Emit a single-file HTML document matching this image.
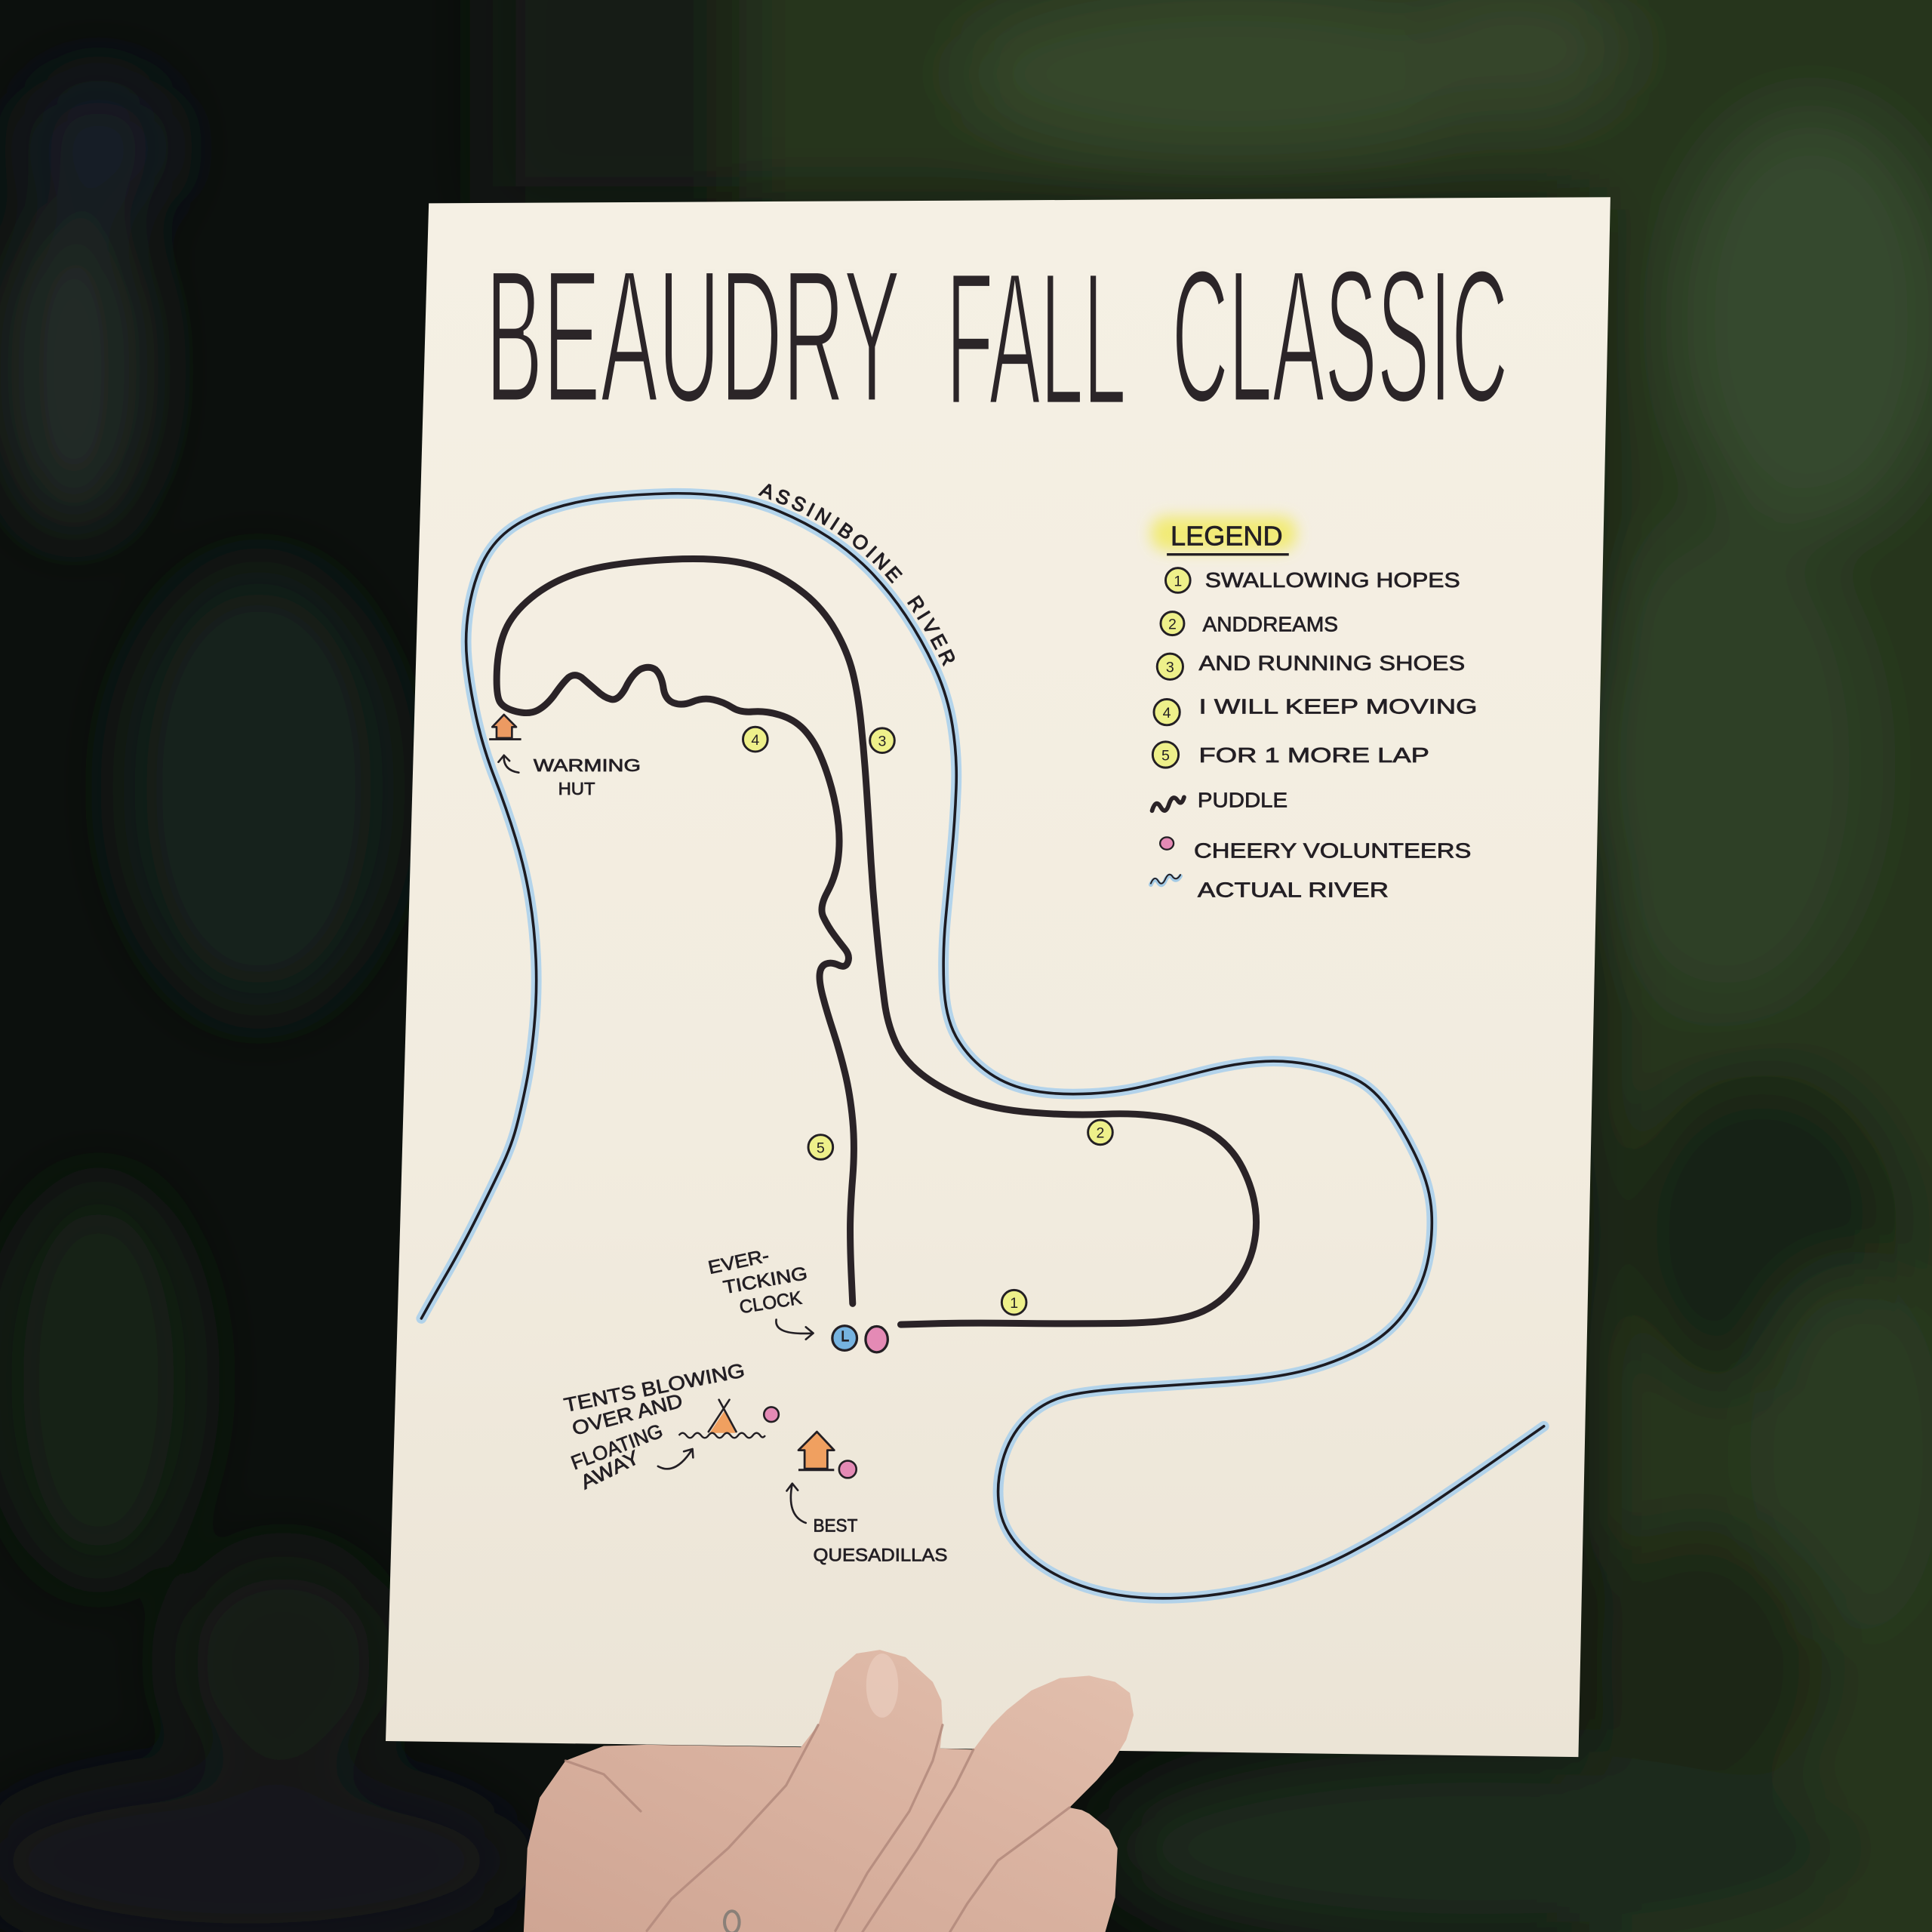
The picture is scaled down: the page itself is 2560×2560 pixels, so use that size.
<!DOCTYPE html>
<html><head><meta charset="utf-8"><style>
html,body{margin:0;padding:0;background:#0c100d;}
svg{display:block;}
.t{font-family:"Liberation Sans",sans-serif;fill:#231f24;stroke:#231f24;stroke-width:0.45;}
.n{font-family:"Liberation Sans",sans-serif;fill:#231f24;font-size:12px;text-anchor:middle;}
</style></head><body>
<svg width="2560" height="2560" viewBox="0 0 1568 1568" xmlns="http://www.w3.org/2000/svg">
<defs>
<filter id="bl" x="-50%" y="-50%" width="200%" height="200%"><feGaussianBlur stdDeviation="28"/></filter>
<filter id="bl2" x="-50%" y="-50%" width="200%" height="200%"><feGaussianBlur stdDeviation="6"/></filter>
<linearGradient id="pg" x1="0" y1="0" x2="0" y2="1"><stop offset="0" stop-color="#f5f0e4"/><stop offset="0.6" stop-color="#f2ecdf"/><stop offset="1" stop-color="#ebe4d6"/></linearGradient>
<linearGradient id="hg" x1="0" y1="1" x2="1" y2="0"><stop offset="0" stop-color="#cfa593"/><stop offset="0.6" stop-color="#dbb4a2"/><stop offset="1" stop-color="#e3c0ae"/></linearGradient>
<path id="river" d="M342,1070 L347,1061 Q352,1052 363.5,1032 Q375,1012 387.5,987 Q400,962 407.5,946 Q415,930 419,915 Q423,900 427,880 Q431,860 433.5,833.5 Q436,807 435,780.5 Q434,754 430,729.5 Q426,705 418.5,680.5 Q411,656 401.5,631.5 Q392,607 386.5,582 Q381,557 379,536 Q377,515 380.5,494 Q384,473 391.5,457 Q399,441 412.5,430.5 Q426,420 448,413 Q470,406 495,403.5 Q520,401 543.5,400.5 Q567,400 589,403 Q611,406 632.5,415 Q654,424 672.5,436 Q691,448 706.5,464 Q722,480 735,499.5 Q748,519 758.5,541.5 Q769,564 773,589 Q777,614 776,640 Q775,666 772.5,692.5 Q770,719 767.5,745.5 Q765,772 766,798.5 Q767,825 775.75,841 Q784.5,857 799.55,868.5 Q814.6,880 833.8,884.3 Q853,888.6 879,887.8 Q905,887 926.5,882 Q948,877 973.75,870.25 Q999.5,863.5 1021,861.75 Q1042.5,860 1064,864.25 Q1085.5,868.5 1100.55,876.05 Q1115.6,883.6 1128.3,902.1 Q1141,920.6 1150.9,942.3 Q1160.8,964 1161.9,984.3 Q1163,1004.6 1158.5,1024.8 Q1154,1045 1141.25,1063.5 Q1128.5,1082 1107,1093.7 Q1085.5,1105.4 1059.75,1112.1 Q1034,1118.8 995.25,1121.35 Q956.5,1123.9 917.75,1126.45 Q879,1129 861.85,1134 Q844.7,1139 831.85,1152.5 Q819,1166 813.5,1186 Q808,1206 811.3,1224.5 Q814.6,1243 829.65,1258 Q844.7,1273 866.2,1282.5 Q887.7,1292 913.35,1295.3 Q939,1298.6 969.25,1296.05 Q999.5,1293.5 1031.75,1285.1 Q1064,1276.7 1096.25,1259.85 Q1128.5,1243 1160.75,1221.25 Q1193,1199.5 1223,1178.5 L1253,1157.5"/>
<path id="rtext" d="M612,400 L634.5,409 Q657,418 676,430.5 Q695,443 711,459 Q727,475 740,494.5 Q753,514 764.5,537.5 L776,561"/>
</defs>

<!-- background -->
<rect width="1568" height="1568" fill="#0c100d"/>
<g filter="url(#bl)">
<rect x="1290" y="-60" width="340" height="1700" fill="#25341f"/>
<rect x="560" y="-60" width="760" height="230" fill="#28361f"/>
<rect x="400" y="-60" width="200" height="230" fill="#151d14"/>
<ellipse cx="1000" cy="60" rx="220" ry="70" fill="#344629"/>
<ellipse cx="1230" cy="40" rx="90" ry="60" fill="#34452b"/>
<ellipse cx="1470" cy="260" rx="110" ry="170" fill="#364a2d"/>
<ellipse cx="1400" cy="620" rx="120" ry="200" fill="#2e4028"/>
<ellipse cx="1430" cy="1000" rx="110" ry="130" fill="#172212"/>
<ellipse cx="1500" cy="1180" rx="80" ry="150" fill="#2b3b24"/>
<ellipse cx="1380" cy="1350" rx="100" ry="110" fill="#1a2514"/>
<ellipse cx="1200" cy="1500" rx="300" ry="80" fill="#1f2b1b"/>
<ellipse cx="60" cy="300" rx="60" ry="130" fill="#222c27"/>
<ellipse cx="210" cy="640" rx="110" ry="180" fill="#19221b"/>
<ellipse cx="80" cy="1120" rx="80" ry="160" fill="#182019"/>
<ellipse cx="230" cy="1350" rx="90" ry="90" fill="#171e18"/>
<ellipse cx="200" cy="1510" rx="220" ry="70" fill="#15181a"/>
<ellipse cx="80" cy="120" rx="60" ry="60" fill="#121a26"/>
</g>

<!-- paper -->
<polygon points="348,165 1307,160 1281,1426 313,1413" fill="url(#pg)"/>

<!-- title -->
<g font-family="Liberation Sans, sans-serif" font-size="154">
<g fill="#2b2528">
<text x="394" y="326" textLength="337" lengthAdjust="spacingAndGlyphs">BEAUDRY</text>
<text x="768" y="328" textLength="146" lengthAdjust="spacingAndGlyphs">FALL</text>
<text x="951" y="326" textLength="273" lengthAdjust="spacingAndGlyphs">CLASSIC</text>
</g>
<g fill="none" stroke="#f4efe3" stroke-width="3.5">
<text x="394" y="326" textLength="337" lengthAdjust="spacingAndGlyphs">BEAUDRY</text>
<text x="768" y="328" textLength="146" lengthAdjust="spacingAndGlyphs">FALL</text>
<text x="951" y="326" textLength="273" lengthAdjust="spacingAndGlyphs">CLASSIC</text>
</g>
</g>

<!-- river -->
<use href="#river" fill="none" stroke="#a2cdee" stroke-width="8.5" stroke-opacity="0.8" stroke-linecap="round" stroke-linejoin="round"/>
<use href="#river" fill="none" stroke="#1c1b22" stroke-width="2.2" stroke-linecap="round" stroke-linejoin="round"/>
<text class="t" font-size="16" letter-spacing="3" word-spacing="8" style="stroke-width:0.7"><textPath href="#rtext" startOffset="4">ASSINIBOINE RIVER</textPath></text>

<!-- track -->
<path fill="none" stroke="#2a2327" stroke-width="5.5" stroke-linecap="round" stroke-linejoin="round" d="M731,1075 L758,1074.25 Q785,1073.5 827.5,1074 Q870,1074.5 909,1074 Q948,1073.5 967.3,1067.6 Q986.6,1061.7 999.3,1046.6 Q1012,1031.5 1016.5,1014.75 Q1021,998 1018.85,981 Q1016.7,964 1008.1,947.35 Q999.5,930.7 984.25,920.6 Q969,910.5 945.5,906.75 Q922,903 896.25,904.25 Q870.5,905.5 838.25,902.95 Q806,900.4 784.5,892 Q763,883.6 748,871.8 Q733,860 726.5,845 Q720,830 717.85,813 Q715.7,796 714.35,784 Q713,772 710.5,745.5 Q708,719 706.5,692.5 Q705,666 703.25,639.8 Q701.5,613.6 699,588.8 Q696.5,564 692.25,546.5 Q688,529 678,511.5 Q668,494 652.85,481.75 Q637.7,469.5 620.85,462.45 Q604,455.4 578.85,454 Q553.7,452.6 519.85,455.8 Q486,459 466,466 Q446,473 431,485.3 Q416,497.6 410,511.65 Q404,525.7 403.25,545.05 Q402.5,564.4 405.75,569.7 Q409,575 419.2,577.5 Q429.4,580 436.2,576.5 Q443,573 449.5,564.5 Q456,555 461.2,550 Q466.4,546 472.2,550 Q478,555 484,560.2 Q490,566 495.8,567.5 Q501.6,569 507.3,559 Q513,547 520,543 Q527,540 532,543.5 Q537,548 538.5,559 Q540,568 546.85,570.5 Q553.7,573 562.1,569.5 Q570.5,566 578.9,567.85 Q587.3,569.7 594,574.1 Q600.7,578.5 610.85,577.6 Q621,576.7 632.7,580.2 Q644.4,583.7 652.2,591.85 Q660,600 665.5,612.5 Q671,625 675,640 Q679,655 680.5,670 Q682,685 680,698.5 Q678,712 671.3,724.35 Q664.6,736.7 668.3,744.35 Q672,752 676.7,758.4 Q681.4,764.8 685.7,770.1 Q690,775.4 688.2,780.7 Q686.4,786 680.55,783.3 Q674.7,780.6 670.35,782.3 Q666,784 665.3,790.25 Q664.6,796.5 667.8,808.75 Q671,821 676.2,836.85 Q681.4,852.7 685.7,870.35 Q690,888 692,909.35 Q694,930.7 692,955.85 Q690,981 690,997.8 Q690,1014.6 691,1036.3 L692,1058"/>

<!-- map number circles -->
<g stroke="#231f24" stroke-width="1.8" fill="#eef08a">
<circle cx="823" cy="1057" r="10"/>
<circle cx="893" cy="919" r="10"/>
<circle cx="716" cy="601" r="10"/>
<circle cx="613" cy="600" r="10"/>
<circle cx="666" cy="931" r="10"/>
</g>
<g class="n">
<text x="823" y="1061.5">1</text>
<text x="893" y="923.5">2</text>
<text x="716" y="605.5">3</text>
<text x="613" y="604.5">4</text>
<text x="666" y="935.5">5</text>
</g>

<!-- clock + volunteer -->
<circle cx="685.5" cy="1086" r="10" fill="#76b3e0" stroke="#231f24" stroke-width="2"/>
<path d="M684,1080 L684,1088 L689,1088" fill="none" stroke="#231f24" stroke-width="1.6"/>
<ellipse cx="711.5" cy="1087" rx="9" ry="10.5" fill="#e48ab5" stroke="#231f24" stroke-width="2"/>

<!-- warming hut -->
<polygon points="409,580 419,590 415.5,590 415.5,599 403,599 403,590 399.5,590" fill="#ec9a62" stroke="#231f24" stroke-width="1.6" stroke-linejoin="round"/>
<line x1="397" y1="600" x2="423" y2="600" stroke="#231f24" stroke-width="1.8"/>
<path d="M421,627 Q408,625 409,613 M409,613 L404.5,618.5 M409,613 L413.5,617.5" fill="none" stroke="#231f24" stroke-width="1.6" stroke-linecap="round"/>
<text class="t" x="433" y="626" font-size="14" textLength="87" lengthAdjust="spacingAndGlyphs">WARMING</text>
<text class="t" x="453" y="645" font-size="14" textLength="30" lengthAdjust="spacingAndGlyphs">HUT</text>

<!-- clock labels -->
<text class="t" font-size="15" transform="translate(576,1034) rotate(-12)" textLength="50" lengthAdjust="spacingAndGlyphs">EVER-</text>
<text class="t" font-size="15" transform="translate(588,1050) rotate(-10)" textLength="69" lengthAdjust="spacingAndGlyphs">TICKING</text>
<text class="t" font-size="15" transform="translate(601,1066) rotate(-9)" textLength="51" lengthAdjust="spacingAndGlyphs">CLOCK</text>
<path d="M630,1071 Q628,1084 660,1082 M660,1082 L654,1077 M660,1082 L654,1087" fill="none" stroke="#231f24" stroke-width="1.6" stroke-linecap="round"/>

<!-- tents -->
<text class="t" font-size="16" transform="translate(459,1146) rotate(-11.2)" textLength="149" lengthAdjust="spacingAndGlyphs">TENTS BLOWING</text>
<text class="t" font-size="16" transform="translate(466,1165) rotate(-14.8)" textLength="92" lengthAdjust="spacingAndGlyphs">OVER AND</text>
<text class="t" font-size="16" transform="translate(466,1193) rotate(-20.6)" textLength="78" lengthAdjust="spacingAndGlyphs">FLOATING</text>
<text class="t" font-size="16" transform="translate(474.5,1209) rotate(-26.3)" textLength="51" lengthAdjust="spacingAndGlyphs">AWAY</text>
<path d="M534,1190 Q548,1198 562,1176 M562,1176 L555,1178 M562,1176 L562.5,1183" fill="none" stroke="#231f24" stroke-width="1.6" stroke-linecap="round"/>
<polygon points="576,1163 588,1145 597,1163" fill="#f0a060"/>
<path d="M583.5,1136 L597.5,1162 M592,1136 L575,1162" stroke="#231f24" stroke-width="1.6" stroke-linecap="round"/>
<path d="M551,1165 q3,-4 6,0 q3,4 6,0 q3,-4 6,0 q3,4 6,0 q3,-4 6,0 q3,4 6,0 q3,-4 6,0 q3,4 6,0 q3,-4 6,0 q3,4 6,0 q3,-4 6,0 q2,3 4,0" fill="none" stroke="#231f24" stroke-width="1.5"/>
<circle cx="626" cy="1148" r="6" fill="#e48ab5" stroke="#231f24" stroke-width="1.6"/>

<!-- quesadilla hut -->
<polygon points="663,1162 677,1177 671.5,1177 671.5,1192 653,1192 653,1177 648,1177" fill="#f0a060" stroke="#231f24" stroke-width="1.7" stroke-linejoin="round"/>
<line x1="648" y1="1193" x2="677" y2="1193" stroke="#231f24" stroke-width="1.8"/>
<circle cx="688" cy="1192.5" r="7" fill="#e48ab5" stroke="#231f24" stroke-width="1.6"/>
<path d="M654,1236 Q638,1230 643,1204 M643,1204 L638.5,1210 M643,1204 L647.5,1209.5" fill="none" stroke="#231f24" stroke-width="1.6" stroke-linecap="round"/>
<text class="t" x="660" y="1243" font-size="15" textLength="36" lengthAdjust="spacingAndGlyphs">BEST</text>
<text class="t" x="660" y="1267" font-size="15" textLength="109" lengthAdjust="spacingAndGlyphs">QUESADILLAS</text>

<!-- legend -->
<rect x="934" y="419" width="118" height="28" rx="12" fill="#f1ea63" opacity="0.85" filter="url(#bl2)"/>
<text class="t" x="950" y="442.5" font-size="22" textLength="91" lengthAdjust="spacingAndGlyphs">LEGEND</text>
<line x1="947" y1="450" x2="1046" y2="450" stroke="#231f24" stroke-width="2"/>
<g stroke="#231f24" stroke-width="1.8" fill="#eef08a">
<circle cx="956" cy="471" r="10"/>
<circle cx="951.5" cy="506" r="9.5"/>
<circle cx="949.6" cy="541" r="10.5"/>
<circle cx="947" cy="578" r="10.5"/>
<circle cx="946" cy="612.5" r="10.5"/>
</g>
<g class="n">
<text x="956" y="475.5">1</text>
<text x="951.5" y="510.5">2</text>
<text x="949.6" y="545.5">3</text>
<text x="947" y="582.5">4</text>
<text x="946" y="617">5</text>
</g>
<g class="t" font-size="17">
<text x="978" y="476.5" textLength="207" lengthAdjust="spacingAndGlyphs">SWALLOWING HOPES</text>
<text x="976" y="512.5" textLength="110" lengthAdjust="spacingAndGlyphs">ANDDREAMS</text>
<text x="973" y="544" textLength="216" lengthAdjust="spacingAndGlyphs">AND RUNNING SHOES</text>
<text x="973" y="579" textLength="226" lengthAdjust="spacingAndGlyphs">I WILL KEEP MOVING</text>
<text x="973" y="618.5" textLength="187" lengthAdjust="spacingAndGlyphs">FOR 1 MORE LAP</text>
<text x="972" y="655" textLength="73" lengthAdjust="spacingAndGlyphs">PUDDLE</text>
<text x="969" y="696" textLength="225" lengthAdjust="spacingAndGlyphs">CHEERY VOLUNTEERS</text>
<text x="972" y="728" textLength="155" lengthAdjust="spacingAndGlyphs">ACTUAL RIVER</text>
</g>
<path d="M935,658 q3,-10 7,-3 q4,7 7,-3 q3,-8 7,-2 q3,4 5,-3" fill="none" stroke="#2a2327" stroke-width="3.5" stroke-linecap="round"/>
<ellipse cx="947" cy="684.5" rx="5.5" ry="5" fill="#e48ab5" stroke="#231f24" stroke-width="1.4"/>
<path d="M934,718 q3,-7 6,-2 q3,5 6,-2 q3,-6 6,-1 q3,3 6,-2" fill="none" stroke="#8fc0e6" stroke-width="3.5" stroke-linecap="round" opacity="0.8"/>
<path d="M934,717 q3,-7 6,-2 q3,5 6,-2 q3,-6 6,-1 q3,3 6,-2" fill="none" stroke="#231f24" stroke-width="1.2" stroke-linecap="round"/>

<!-- hand -->
<path d="M425,1568 L428,1500 L438,1459 L459,1429 L490,1417 L525,1416 L650,1418 L664,1400 L668,1388 L678,1357 L695,1342 L714,1339 L735,1345 L757,1365 L764,1380 L765,1400 L763,1419 L790,1420 L805,1400 L817,1388 L837,1372 L860,1362 L884,1360 L905,1365 L917,1374 L920,1392 L914,1412 L903,1430 L890,1445 L875,1460 L868,1467 L878,1469 L884,1472 L900,1485 L907,1500 L905,1540 L897,1568 Z" fill="url(#hg)"/>
<ellipse cx="716" cy="1368" rx="13" ry="26" fill="#e8cabb" opacity="0.8"/>
<g fill="none" stroke="#b0877a" stroke-width="2" stroke-linecap="round" opacity="0.8">
<path d="M664,1400 L638,1449 L591,1500 L545,1541 L525,1567"/>
<path d="M765,1400 L757,1429 L738,1470 L704,1520 L678,1567"/>
<path d="M790,1420 L775,1450 L745,1500 L715,1545 L700,1568"/>
<path d="M868,1467 L840,1488 L810,1510 L785,1545 L771,1568"/>
<path d="M459,1429 L490,1440 L520,1470"/>
</g>
<ellipse cx="594" cy="1560" rx="6" ry="9" fill="none" stroke="#8a8078" stroke-width="2.5"/>
</svg>
</body></html>
